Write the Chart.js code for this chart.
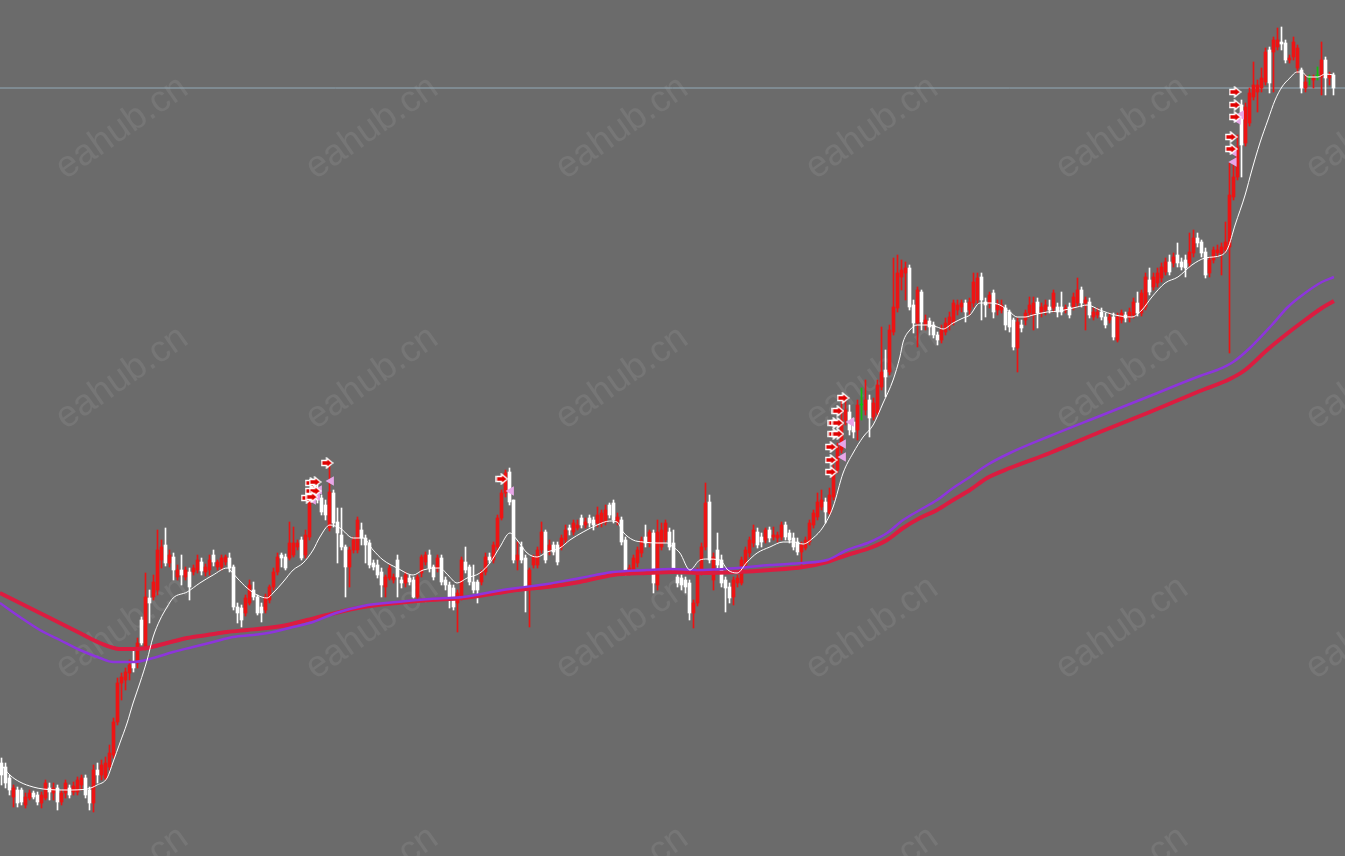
<!DOCTYPE html>
<html>
<head>
<meta charset="utf-8">
<script src="https://cdn.jsdelivr.net/npm/chart.js@4.4.1/dist/chart.umd.min.js"></script>
<style>
html,body{margin:0;padding:0;background:#6b6b6b;overflow:hidden;}
#wrap{position:relative;width:1345px;height:856px;}
</style>
</head>
<body>
<div id="wrap"><canvas id="c"></canvas></div>
<script>
// ---- candle data (price points) ----
const opens = [
237,233,222,203,210,210,195,202,207,205,
197,202,212,207,212,198,207,212,208,208,
215,222,210,197,230,225,222,233,245,278,
317,320,327,337,337,380,353,402,403,410,
440,455,437,443,423,430,423,428,428,430,
438,428,430,445,433,433,438,442,433,393,
392,387,397,410,403,393,390,400,413,428,
445,443,442,445,453,460,445,463,500,510,
502,495,472,507,478,465,453,433,450,450,
470,462,457,437,435,428,413,422,420,440,
420,417,422,420,403,427,438,445,433,432,
442,420,415,412,397,403,438,433,418,418,
418,428,443,440,453,482,507,528,500,440,
453,442,413,435,435,450,468,450,455,455,
453,460,472,468,472,482,475,482,480,477,
477,478,495,497,478,480,460,428,430,437,
447,463,457,467,415,453,460,468,457,423,
422,420,417,387,397,430,453,498,420,450,
440,420,413,403,417,417,435,447,457,468,
463,460,470,463,462,463,475,467,462,458,
448,452,458,475,483,493,498,487,503,530,
550,580,588,578,570,595,590,600,583,587,
613,630,628,668,692,723,727,732,695,677,
708,675,679,675,665,660,668,675,678,690,
693,697,690,697,700,723,698,697,707,690,
690,692,688,680,652,675,680,687,685,698,
688,690,693,692,693,693,690,693,693,697,
710,697,698,683,685,688,683,680,683,660,
680,685,682,685,697,687,693,720,713,717,
722,728,738,737,745,738,740,737,747,762,
758,748,727,740,747,747,750,753,803,823,
895,857,877,903,908,912,918,950,948,953,
958,957,940,943,932,930,912,922,920,924,
923,940,922,925];
const highs = [
242,237,225,215,213,212,207,210,209,208,
208,220,217,217,215,210,220,215,218,223,
225,225,213,235,237,240,243,255,282,322,
327,332,340,350,362,383,427,410,425,470,
460,472,450,447,435,445,433,432,435,445,
442,436,445,450,440,445,445,447,435,397,
395,405,420,418,405,397,406,415,432,447,
447,446,478,473,460,463,470,510,517,515,
505,500,540,510,492,492,455,453,463,483,
477,465,460,440,440,432,425,435,426,445,
423,428,425,423,425,445,448,450,435,445,
445,423,418,415,410,443,453,435,435,420,
430,447,447,458,485,510,530,532,500,458,
458,445,432,445,453,478,470,460,458,458,
465,475,475,480,480,485,482,485,483,493,
490,495,497,500,487,483,463,435,445,453,
463,475,470,470,480,477,480,472,470,425,
425,423,420,400,432,457,517,505,447,467,
445,423,417,423,425,443,453,463,475,472,
467,472,473,473,468,478,478,470,467,462,
458,463,480,490,507,510,502,512,535,557,
600,600,595,582,600,612,620,605,602,620,
673,650,675,742,745,740,738,735,700,713,
710,685,682,678,668,675,682,688,700,700,
700,700,702,727,727,727,702,708,710,700,
700,695,690,682,682,680,690,703,703,702,
697,700,700,710,697,708,695,697,707,722,
713,703,702,692,692,692,687,687,687,687,
690,688,692,702,708,710,727,732,727,732,
737,742,745,747,757,742,745,767,770,767,
760,752,743,753,755,757,778,837,840,865,
900,897,912,938,920,932,952,953,963,972,
973,960,945,963,955,932,925,925,925,933,
958,943,928,927];
const lows = [
215,212,205,193,193,195,192,200,201,195,
192,200,200,200,190,195,202,202,205,205,
210,202,190,188,217,220,220,230,242,275,
300,310,320,328,332,355,350,377,400,405,
432,434,433,420,420,415,420,400,425,427,
425,424,425,434,430,430,435,428,390,377,
373,384,395,400,385,378,387,397,410,425,
433,430,440,443,450,440,442,460,497,497,
485,480,469,473,437,450,403,413,447,447,
455,437,432,430,422,403,403,420,417,403,
412,413,415,402,400,423,435,428,420,428,
415,410,392,390,368,400,427,415,407,397,
415,425,437,437,450,480,503,495,437,430,
437,388,373,432,432,447,437,445,445,435,
450,457,465,465,470,472,472,473,470,473,
473,475,482,477,475,455,425,425,427,433,
443,453,453,407,410,450,457,450,427,413,
410,407,380,372,394,425,450,437,410,432,
413,388,397,395,413,415,432,443,453,452,
453,457,458,460,458,460,460,457,450,445,
435,450,455,472,480,490,477,485,500,527,
547,575,565,562,560,580,585,563,580,584,
610,603,625,665,688,710,700,690,667,653,
670,670,665,662,655,657,665,670,675,685,
688,678,685,693,697,680,683,692,682,685,
687,670,668,650,628,668,675,683,670,672,
683,685,687,688,683,685,687,682,690,693,
693,670,682,680,682,680,672,677,660,658,
677,678,678,682,684,684,690,705,710,713,
718,725,725,733,733,730,723,733,743,753,
743,722,723,737,743,725,747,647,800,820,
823,854,874,900,888,908,915,907,908,950,
950,937,937,940,927,907,908,915,912,920,
905,905,915,905];
const closes = [
225,217,210,212,197,198,203,207,203,198,
205,217,208,212,198,207,217,205,214,220,
222,205,197,230,225,235,237,247,278,317,
323,328,335,332,357,357,403,397,418,450,
453,437,445,430,430,425,430,413,432,440,
429,433,440,438,438,442,443,432,393,387,
380,402,415,403,387,387,403,413,428,443,
442,432,457,457,457,442,465,503,513,500,
488,485,508,477,467,453,433,450,460,480,
462,455,435,433,425,415,423,432,423,423,
417,425,418,403,423,443,445,432,423,442,
418,415,402,393,407,440,430,418,410,410,
428,443,440,455,482,507,527,498,440,445,
440,413,430,443,450,468,440,455,448,438,
462,470,470,477,475,475,478,477,475,485,
487,490,485,480,483,458,428,432,442,450,
460,457,468,417,468,470,477,453,430,417,
415,413,387,397,428,453,497,440,443,435,
417,412,402,420,422,440,450,460,470,455,
458,470,462,465,465,475,463,460,453,448,
455,460,477,487,498,500,488,505,530,553,
580,590,570,568,595,595,600,582,597,615,
628,623,670,693,727,730,732,693,677,710,
678,680,673,665,660,670,677,683,697,695,
697,688,698,718,722,700,695,705,688,695,
695,675,673,653,678,672,687,695,697,687,
693,695,690,707,688,688,692,685,703,710,
697,700,685,688,688,683,675,683,663,683,
687,682,688,698,687,707,723,708,723,727,
733,738,728,743,737,733,732,748,762,757,
747,725,740,750,750,753,758,805,823,853,
855,893,907,915,915,922,948,917,960,960,
956,940,942,958,952,912,918,922,922,924,
940,922,925,912];

// ---- indicator lines: [bar index, price] ----
const maFast = [
[-0.4,237],[2.1,225],[4.6,218],[7.9,213],[10.4,211],[16.4,210],[21.4,211],[23.9,215],[26.4,222],[27.9,238],
[29.6,257],[31.4,277],[32.9,297],[34.6,317],[36.4,340],[37.9,363],[39.6,380],[41.4,393],[42.9,402],[46.4,408],
[49.6,417],[52.9,425],[56.4,432],[57.1,430],[58.9,422],[61.4,412],[63.9,405],[66.4,402],[67.9,407],[70.4,418],
[72.9,430],[75.4,437],[77.9,450],[79.6,463],[82.1,475],[84.6,472],[87.9,462],[90.4,462],[92.9,450],[95.4,440],
[98.9,432],[102.9,425],[105.4,430],[109.6,432],[111.6,425],[113.9,417],[116.4,422],[119.6,427],[122.1,437],[124.6,453],
[127.1,467],[128.9,460],[131.4,447],[133.9,443],[136.4,448],[139.6,452],[142.1,460],[145.4,468],[148.9,475],[152.1,479],
[153.9,478],[155.4,468],[157.9,460],[160.4,458],[163.9,457],[166.4,457],[167.9,453],[169.6,447],[172.1,430],[174.6,440],
[176.4,441],[179.6,440],[181.6,430],[183.9,427],[186.4,438],[188.9,447],[192.1,453],[195.4,458],[197.9,458],[200.4,456],
[202.9,462],[205.4,473],[207.9,493],[210.4,527],[212.9,547],[215.4,563],[217.9,575],[220.4,597],[222.9,620],[224.6,643],
[225.4,658],[227.1,670],[228.9,675],[231.4,675],[233.9,673],[235.4,671],[237.9,677],[240.4,682],[242.1,685],[244.6,697],
[247.1,697],[249.6,695],[252.1,688],[253.9,683],[255.9,683],[257.9,685],[261.4,688],[264.6,689],[268.9,693],[271.4,695],
[274.6,690],[278.4,685],[282.6,683],[285.1,690],[287.6,703],[290.9,717],[294.1,723],[297.6,735],[300.9,742],[305.1,745],
[306.6,752],[308.4,775],[310.9,805],[312.6,830],[314.6,857],[316.6,880],[318.4,900],[320.1,913],[322.1,922],[323.9,928],
[325.1,928],[326.6,923],[329.1,923],[330.9,926],[333.1,925]];
const maMid = [
[-0.4,397],[4.6,383],[9.6,370],[14.6,360],[19.6,350],[24.6,342],[27.9,338],[32.9,338],[37.9,342],[42.9,348],
[47.9,353],[52.9,358],[57.9,363],[62.9,365],[67.9,368],[72.9,373],[77.9,378],[83.6,387],[90.4,394],[98.9,398],
[107.1,401],[115.4,403],[123.9,409],[128.9,412],[136.4,416],[144.6,422],[152.9,428],[161.4,430],[167.1,431],[175.4,430],
[183.9,432],[192.1,435],[200.4,437],[206.4,440],[211.4,450],[217.1,458],[221.4,467],[225.4,480],[229.6,490],[233.9,500],
[237.9,512],[242.1,523],[246.4,535],[252.1,547],[262.1,564],[274.6,584],[287.1,604],[299.6,624],[303.9,630],[307.9,638],
[312.1,652],[317.6,675],[321.6,693],[325.9,707],[330.1,718],[333.1,723]];
const maSlow = [
[-0.4,407],[4.6,397],[9.6,387],[14.6,377],[19.6,367],[24.6,357],[29.6,351],[32.9,351],[36.4,352],[41.4,357],
[46.4,362],[51.4,365],[56.4,368],[61.4,370],[66.4,372],[71.4,375],[76.4,380],[81.4,385],[90.4,393],[98.9,397],
[107.1,400],[115.4,402],[123.9,407],[128.9,410],[136.4,413],[144.6,418],[152.9,425],[161.4,427],[168.4,428],[175.4,427],
[183.9,428],[192.1,430],[200.4,433],[206.4,438],[211.4,445],[217.1,452],[221.4,460],[225.4,472],[229.6,482],[233.9,490],
[237.9,500],[242.1,510],[246.4,522],[252.1,532],[262.1,547],[274.6,568],[287.1,588],[299.6,609],[307.1,621],[310.9,630],
[316.4,650],[321.6,667],[325.9,680],[330.1,692],[333.1,699]];
const levelPrice = 912;

// ---- signal markers: [bar index, price] ----
const arrowSignals = [
[76.4,502],[77.4,517],[77.4,509],[78.4,518],[78.4,509],[77.6,503],[81.4,537],
[125.1,521],
[210.4,602],[209.1,589],[208.1,577],[209.1,577],[208.1,566],[209.1,566],[207.4,553],[207.4,540],[207.4,528],
[308.4,908],[308.4,895],[308.4,883],[307.4,863],[307.4,851]];
const triSignals = [
[77.9,500],[78.9,504],[79.4,510],[82.4,519],
[127.4,509],
[212.4,578],[210.4,556],[210.4,543],
[309.9,885],[309.1,880],[308.1,848],[308.1,838]];

const watermark = "eahub.cn";

// ---- build ----
const RED = '#ee1313', WHITE = '#ffffff', GREEN = '#10c010';
const colorFor = i => closes[i] > opens[i] ? RED : (closes[i] < opens[i] ? WHITE : GREEN);
const idx = opens.map((_, i) => i);
const wickData = idx.map(i => ({x: i, y: [lows[i], highs[i]]}));
const bodyData = idx.map(i => ({x: i, y: [opens[i], closes[i]]}));
const candleColors = idx.map(colorFor);
const toPts = a => a.map(p => ({x: p[0], y: p[1]}));

function arrowSprite() {
  const c = document.createElement('canvas');
  c.width = 13; c.height = 12;
  const g = c.getContext('2d');
  g.beginPath();
  g.moveTo(1, 3.5); g.lineTo(6, 3.5); g.lineTo(6, 1); g.lineTo(12, 6);
  g.lineTo(6, 11); g.lineTo(6, 8.5); g.lineTo(1, 8.5); g.closePath();
  g.fillStyle = '#e00000'; g.fill();
  g.strokeStyle = '#ffffff'; g.lineWidth = 1.4; g.stroke();
  return c;
}

const bgPlugin = {
  id: 'bg',
  beforeDraw(chart) {
    const ctx = chart.ctx;
    ctx.save();
    ctx.fillStyle = '#6b6b6b';
    ctx.fillRect(0, 0, chart.width, chart.height);
    ctx.restore();
  },
  beforeDatasetsDraw(chart) {
    const ctx = chart.ctx;
    ctx.save();
    ctx.font = '37px "Liberation Sans", Arial, sans-serif';
    ctx.fillStyle = 'rgba(255,255,255,0.08)';
    ctx.textAlign = 'center';
    ctx.textBaseline = 'middle';
    for (let r = 0; r < 4; r++) {
      for (let k = 0; k < 6; k++) {
        ctx.save();
        ctx.translate(122 + 250 * k, 128 + 250 * r);
        ctx.rotate(-35 * Math.PI / 180);
        ctx.fillText(watermark, 0, 0);
        ctx.restore();
      }
    }
    ctx.restore();
  }
};

new Chart(document.getElementById('c'), {
  type: 'bar',
  data: {
    datasets: [
      {type: 'line', data: [{x: -2, y: levelPrice}, {x: 340, y: levelPrice}], borderColor: '#93abb9', borderWidth: 1, pointRadius: 0, order: 12},
      {type: 'bar', data: wickData, backgroundColor: candleColors, barThickness: 1, grouped: false, order: 11, minBarLength: 1},
      {type: 'bar', data: bodyData, backgroundColor: candleColors, barThickness: 3, grouped: false, order: 10, minBarLength: 1},
      {type: 'line', data: toPts(maSlow), borderColor: '#dc1c40', borderWidth: 4, pointRadius: 0, tension: 0.4, cubicInterpolationMode: 'monotone', order: 6},
      {type: 'line', data: toPts(maMid), borderColor: '#8d35dc', borderWidth: 2.5, pointRadius: 0, tension: 0.4, cubicInterpolationMode: 'monotone', order: 5},
      {type: 'line', data: toPts(maFast), borderColor: '#ffffff', borderWidth: 1, pointRadius: 0, tension: 0.4, cubicInterpolationMode: 'monotone', order: 4},
      {type: 'line', data: toPts(triSignals), showLine: false, pointStyle: 'triangle', rotation: -90, pointRadius: 5.5, backgroundColor: '#e8a6e8', borderColor: '#e8a6e8', borderWidth: 0, order: 2},
      {type: 'line', data: toPts(arrowSignals), showLine: false, pointStyle: arrowSprite(), pointRadius: 6, order: 1}
    ]
  },
  options: {
    responsive: true,
    maintainAspectRatio: false,
    animation: false,
    devicePixelRatio: 1,
    layout: {padding: 0, autoPadding: false},
    plugins: {legend: {display: false}, tooltip: {enabled: false}},
    events: [],
    scales: {
      x: {type: 'linear', min: -0.375, max: 335.875, display: false, offset: false, grid: {display: false}},
      y: {type: 'linear', min: 144, max: 1000, display: false, grid: {display: false}}
    }
  },
  plugins: [bgPlugin]
});
</script>
</body>
</html>
